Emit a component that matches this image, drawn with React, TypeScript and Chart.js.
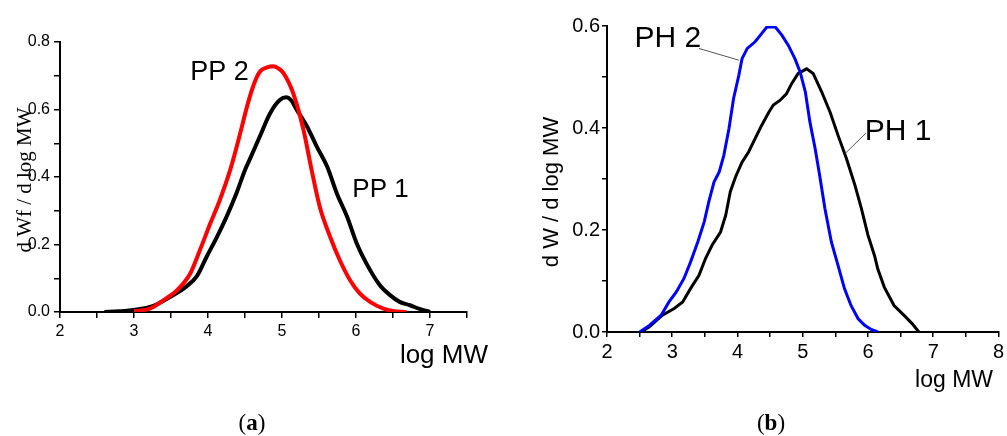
import React, { useEffect, useRef } from 'react';
import { Chart, registerables } from 'chart.js';

Chart.register(...registerables);

// ---------- Panel (a) data ----------
const pp1X = [2.6, 2.8, 3.0, 3.26, 3.49, 3.71, 3.85, 3.98, 4.12, 4.25, 4.39, 4.5, 4.57, 4.7, 4.84, 4.97, 5.06, 5.12, 5.2, 5.34, 5.47, 5.61, 5.74, 5.88, 6.01, 6.14, 6.32, 6.46, 6.59, 6.73, 6.86, 7.0];
const pp1Y = [0, 0.002, 0.006, 0.018, 0.045, 0.076, 0.106, 0.163, 0.222, 0.282, 0.355, 0.421, 0.455, 0.52, 0.589, 0.628, 0.636, 0.628, 0.599, 0.549, 0.49, 0.431, 0.352, 0.282, 0.203, 0.144, 0.08, 0.05, 0.03, 0.02, 0.009, 0];
const pp2X = [3.0, 3.17, 3.26, 3.4, 3.58, 3.76, 3.89, 4.03, 4.16, 4.3, 4.43, 4.54, 4.62, 4.7, 4.8, 4.88, 4.95, 5.02, 5.15, 5.29, 5.4, 5.51, 5.65, 5.78, 5.92, 6.05, 6.19, 6.37, 6.5, 6.68];
const pp2Y = [0.003, 0.007, 0.015, 0.035, 0.064, 0.114, 0.183, 0.262, 0.332, 0.421, 0.525, 0.619, 0.675, 0.712, 0.725, 0.728, 0.722, 0.708, 0.649, 0.54, 0.421, 0.312, 0.223, 0.154, 0.094, 0.055, 0.03, 0.01, 0.003, 0];

// ---------- Panel (b) data ----------
const ph2X = [2.5, 2.65, 2.83, 2.95, 3.06, 3.18, 3.28, 3.39, 3.49, 3.56, 3.64, 3.72, 3.79, 3.87, 3.94, 4.02, 4.07, 4.15, 4.27, 4.37, 4.45, 4.58, 4.68, 4.78, 4.88, 4.96, 5.04, 5.11, 5.19, 5.26, 5.34, 5.44, 5.54, 5.64, 5.74, 5.85, 5.95, 6.05, 6.15];
const ph2Y = [0, 0.013, 0.033, 0.059, 0.078, 0.105, 0.137, 0.176, 0.216, 0.255, 0.294, 0.314, 0.346, 0.399, 0.458, 0.503, 0.536, 0.556, 0.569, 0.585, 0.598, 0.598, 0.582, 0.562, 0.536, 0.51, 0.471, 0.412, 0.36, 0.307, 0.242, 0.176, 0.131, 0.085, 0.052, 0.026, 0.013, 0.005, 0];
const ph1X = [2.52, 2.65, 2.85, 3.03, 3.16, 3.28, 3.41, 3.51, 3.61, 3.74, 3.82, 3.89, 3.97, 4.07, 4.17, 4.27, 4.37, 4.48, 4.55, 4.65, 4.75, 4.83, 4.93, 5.06, 5.16, 5.29, 5.42, 5.54, 5.67, 5.8, 5.9, 6.0, 6.1, 6.15, 6.25, 6.4, 6.55, 6.68, 6.78];
const ph1Y = [0, 0.01, 0.033, 0.046, 0.059, 0.085, 0.111, 0.144, 0.17, 0.196, 0.229, 0.275, 0.304, 0.333, 0.353, 0.379, 0.405, 0.431, 0.445, 0.454, 0.467, 0.487, 0.507, 0.516, 0.507, 0.471, 0.431, 0.386, 0.34, 0.288, 0.242, 0.19, 0.15, 0.124, 0.088, 0.052, 0.033, 0.016, 0];

// ---------- Axis ranges / labels ----------
const xRangeA = [2, 7.5];
const yRangeA = [0, 0.8];
const xRangeB = [2, 8];
const yRangeB = [0, 0.6];
const seriesNamesA = ['PP 2', 'PP 1'];
const seriesNamesB = ['PH 2', 'PH 1'];
const yTitleA = 'd Wf / d log MW';
const yTitleB = 'd W / d log MW';
const xTitle = 'log MW';
const panelLabels = ['a', 'b'];

const pts = (xs: number[], ys: number[]) => xs.map((x, i) => ({ x, y: ys[i] }));

type TextNote = {
  text: string;
  x: number;
  y: number;
  data?: boolean;
  font: string;
  align?: CanvasTextAlign;
  baseline?: CanvasTextBaseline;
  rot?: number;
};
type LineNote = { x1: number; y1: number; x2: number; y2: number };
type Caption = { letter: string; cx: number; baseline: number };

function makeNotes(texts: TextNote[], lines: LineNote[], caption: Caption) {
  return {
    id: 'notes',
    afterDraw(chart: any) {
      const ctx: CanvasRenderingContext2D = chart.ctx;
      const xs = chart.scales.x;
      const ys = chart.scales.y;
      ctx.save();
      ctx.strokeStyle = '#555';
      ctx.lineWidth = 1;
      for (const l of lines) {
        ctx.beginPath();
        ctx.moveTo(xs.getPixelForValue(l.x1), ys.getPixelForValue(l.y1));
        ctx.lineTo(xs.getPixelForValue(l.x2), ys.getPixelForValue(l.y2));
        ctx.stroke();
      }
      ctx.fillStyle = '#000';
      for (const t of texts) {
        const px = t.data ? xs.getPixelForValue(t.x) : t.x;
        const py = t.data ? ys.getPixelForValue(t.y) : t.y;
        ctx.save();
        ctx.translate(px, py);
        if (t.rot) ctx.rotate(t.rot);
        ctx.font = t.font;
        ctx.textAlign = t.align || 'left';
        ctx.textBaseline = t.baseline || 'alphabetic';
        ctx.fillText(t.text, 0, 0);
        ctx.restore();
      }
      // caption "(x)" with bold letter
      const normal = '23px "Liberation Serif", serif';
      const bold = 'bold 23px "Liberation Serif", serif';
      ctx.textAlign = 'left';
      ctx.textBaseline = 'alphabetic';
      ctx.font = normal;
      const wl = ctx.measureText('(').width;
      const wr = ctx.measureText(')').width;
      ctx.font = bold;
      const wm = ctx.measureText(caption.letter).width;
      const x0 = caption.cx - (wl + wm + wr) / 2;
      ctx.font = normal;
      ctx.fillText('(', x0, caption.baseline);
      ctx.font = bold;
      ctx.fillText(caption.letter, x0 + wl, caption.baseline);
      ctx.font = normal;
      ctx.fillText(')', x0 + wl + wm, caption.baseline);
      ctx.restore();
    },
  };
}

type PanelProps = {
  left: number;
  width: number;
  height: number;
  datasets: any[];
  xRange: number[];
  yRange: number[];
  area: { left: number; right: number; top: number; bottom: number };
  tickFont: number;
  tickLen: number;
  xPad: number;
  yPad: number;
  texts: TextNote[];
  lines: LineNote[];
  caption: Caption;
};

function Panel(p: PanelProps) {
  const ref = useRef<HTMLCanvasElement | null>(null);
  useEffect(() => {
    if (!ref.current) return;
    const font = { family: '"Liberation Sans", Arial, sans-serif', size: p.tickFont };
    const chart = new Chart(ref.current, {
      type: 'line',
      data: { datasets: p.datasets },
      options: {
        animation: false,
        responsive: false,
        devicePixelRatio: 1,
        events: [],
        layout: {
          padding: { left: 0, top: p.area.top, right: p.width - p.area.right, bottom: 0 },
        },
        plugins: { legend: { display: false }, tooltip: { enabled: false } },
        elements: { point: { radius: 0 } },
        scales: {
          x: {
            type: 'linear',
            min: p.xRange[0],
            max: p.xRange[1],
            afterFit: (s: any) => {
              s.height = p.height - p.area.bottom;
            },
            border: { display: true, color: '#000', width: 2 },
            grid: { drawOnChartArea: false, drawTicks: true, tickLength: p.tickLen, color: '#000', lineWidth: 1.5 },
            ticks: {
              stepSize: 0.5,
              autoSkip: false,
              maxRotation: 0,
              padding: p.xPad,
              color: '#000',
              font,
              callback: (v: any) => (Math.abs(v - Math.round(v)) < 1e-6 ? String(Math.round(v)) : ''),
            },
          },
          y: {
            type: 'linear',
            min: p.yRange[0],
            max: p.yRange[1],
            afterFit: (s: any) => {
              s.width = p.area.left;
            },
            border: { display: true, color: '#000', width: 2 },
            grid: { drawOnChartArea: false, drawTicks: true, tickLength: p.tickLen, color: '#000', lineWidth: 1.5 },
            ticks: {
              stepSize: 0.1,
              autoSkip: false,
              padding: p.yPad,
              color: '#000',
              font,
              callback: (v: any) => {
                const r = Math.round(v * 10);
                return r % 2 === 0 ? (r / 10).toFixed(1) : '';
              },
            },
          },
        },
      },
      plugins: [makeNotes(p.texts, p.lines, p.caption)],
    } as any);
    return () => chart.destroy();
  }, []);
  return (
    <canvas
      ref={ref}
      width={p.width}
      height={p.height}
      style={{ position: 'absolute', left: p.left, top: 0, width: p.width, height: p.height, display: 'block' }}
    />
  );
}

export default function App() {
  const sans = '"Liberation Sans", Arial, sans-serif';
  const serif = '"Liberation Serif", "Times New Roman", serif';
  const dsA = [
    { label: seriesNamesA[0], data: pts(pp2X, pp2Y), borderColor: '#ff0000', borderWidth: 4, cubicInterpolationMode: 'monotone', fill: false },
    { label: seriesNamesA[1], data: pts(pp1X, pp1Y), borderColor: '#000000', borderWidth: 4, cubicInterpolationMode: 'monotone', fill: false },
  ];
  const dsB = [
    { label: seriesNamesB[0], data: pts(ph2X, ph2Y), borderColor: '#0000ff', borderWidth: 3, tension: 0, fill: false },
    { label: seriesNamesB[1], data: pts(ph1X, ph1Y), borderColor: '#000000', borderWidth: 3, tension: 0, fill: false },
  ];
  return (
    <div style={{ position: 'absolute', left: 0, top: 0, width: 1007, height: 436, background: '#fff', overflow: 'hidden' }}>
      <Panel
        left={0}
        width={500}
        height={436}
        datasets={dsA}
        xRange={xRangeA}
        yRange={yRangeA}
        area={{ left: 60, right: 467, top: 42, bottom: 312 }}
        tickFont={16}
        tickLen={6}
        xPad={4}
        yPad={4}
        texts={[
          { text: seriesNamesA[0], x: 3.76, y: 0.688, data: true, font: `27px ${sans}` },
          { text: seriesNamesA[1], x: 5.95, y: 0.34, data: true, font: `26px ${sans}` },
          { text: xTitle, x: 488, y: 363, font: `26px ${sans}`, align: 'right' },
          { text: yTitleA, x: 25, y: 180, font: `21px ${serif}`, align: 'center', baseline: 'middle', rot: -Math.PI / 2 },
        ]}
        lines={[]}
        caption={{ letter: panelLabels[0], cx: 252, baseline: 430 }}
      />
      <Panel
        left={500}
        width={507}
        height={436}
        datasets={dsB}
        xRange={xRangeB}
        yRange={yRangeB}
        area={{ left: 107, right: 502, top: 26, bottom: 332 }}
        tickFont={20}
        tickLen={5}
        xPad={3}
        yPad={2}
        texts={[
          { text: seriesNamesB[0], x: 2.42, y: 0.558, data: true, font: `30px ${sans}` },
          { text: seriesNamesB[1], x: 5.95, y: 0.376, data: true, font: `30px ${sans}` },
          { text: xTitle, x: 493, y: 387, font: `23px ${sans}`, align: 'right' },
          { text: yTitleB, x: 52, y: 192, font: `22px ${sans}`, align: 'center', baseline: 'middle', rot: -Math.PI / 2 },
        ]}
        lines={[
          { x1: 3.41, y1: 0.556, x2: 4.02, y2: 0.533 },
          { x1: 5.97, y1: 0.39, x2: 5.65, y2: 0.35 },
        ]}
        caption={{ letter: panelLabels[1], cx: 271, baseline: 430 }}
      />
    </div>
  );
}
